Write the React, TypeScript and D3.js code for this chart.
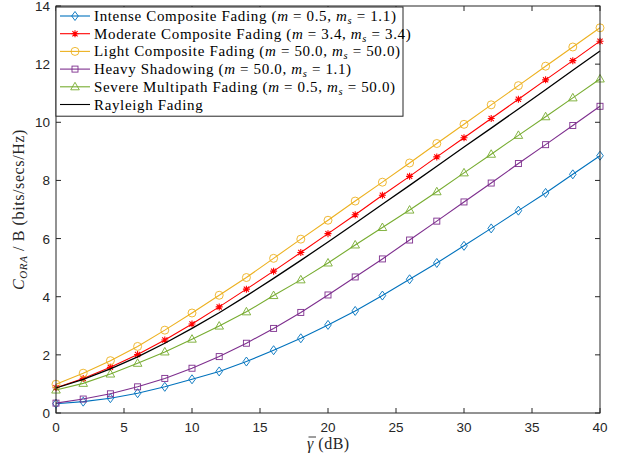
import React from "react";
import * as d3 from "d3";

const snr = [0, 2, 4, 6, 8, 10, 12, 14, 16, 18, 20, 22, 24, 26, 28, 30, 32, 34, 36, 38, 40];

const intense = [0.32, 0.39, 0.51, 0.68, 0.9, 1.16, 1.43, 1.77, 2.16, 2.57, 3.03, 3.51, 4.04, 4.6, 5.16, 5.75, 6.35, 6.96, 7.57, 8.21, 8.85];
const moderate = [0.87, 1.19, 1.57, 2.01, 2.51, 3.06, 3.65, 4.26, 4.88, 5.52, 6.17, 6.82, 7.49, 8.14, 8.81, 9.47, 10.13, 10.79, 11.46, 12.12, 12.79];
const light = [0.99, 1.37, 1.8, 2.29, 2.85, 3.44, 4.05, 4.66, 5.32, 5.98, 6.63, 7.29, 7.94, 8.6, 9.27, 9.93, 10.6, 11.26, 11.93, 12.59, 13.25];
const heavy = [0.34, 0.48, 0.66, 0.9, 1.19, 1.54, 1.94, 2.4, 2.91, 3.46, 4.06, 4.68, 5.3, 5.95, 6.6, 7.26, 7.91, 8.58, 9.23, 9.89, 10.55];
const severe = [0.79, 1.02, 1.34, 1.71, 2.1, 2.54, 2.99, 3.48, 4.04, 4.58, 5.16, 5.78, 6.38, 6.98, 7.61, 8.26, 8.9, 9.55, 10.19, 10.84, 11.49];
const rayleigh = [0.86, 1.16, 1.52, 1.93, 2.4, 2.91, 3.45, 4.03, 4.63, 5.25, 5.88, 6.53, 7.18, 7.83, 8.49, 9.15, 9.8, 10.46, 11.12, 11.79, 12.45];

const xTicks = [0, 5, 10, 15, 20, 25, 30, 35, 40];
const yTicks = [0, 2, 4, 6, 8, 10, 12, 14];

const seriesNames = [
  { name: "Intense Composite Fading", m: "0.5", ms: "1.1" },
  { name: "Moderate Composite Fading", m: "3.4", ms: "3.4" },
  { name: "Light Composite Fading", m: "50.0", ms: "50.0" },
  { name: "Heavy Shadowing", m: "50.0", ms: "1.1" },
  { name: "Severe Multipath Fading", m: "0.5", ms: "50.0" },
  { name: "Rayleigh Fading", m: "", ms: "" },
];

const series = [
  { data: intense, color: "#0072BD", marker: "diamond" },
  { data: moderate, color: "#FF0000", marker: "asterisk" },
  { data: light, color: "#EDB120", marker: "circle" },
  { data: heavy, color: "#7E2F8E", marker: "square" },
  { data: severe, color: "#77AC30", marker: "triangle" },
  { data: rayleigh, color: "#000000", marker: "none" },
];

const W = 623;
const H = 459;
const L = 56, R = 600, T = 6, B = 413;

function Marker({ type, x, y, color }: { type: string; x: number; y: number; color: string }) {
  const sw = 0.9;
  if (type === "circle") return <circle cx={x} cy={y} r={4} fill="none" stroke={color} strokeWidth={sw} />;
  if (type === "square") return <rect x={x - 3} y={y - 3} width={6} height={6} fill="none" stroke={color} strokeWidth={sw} />;
  if (type === "diamond")
    return <path d={`M${x},${y - 4.5}L${x + 3.3},${y}L${x},${y + 4.5}L${x - 3.3},${y}Z`} fill="none" stroke={color} strokeWidth={sw} />;
  if (type === "triangle")
    return <path d={`M${x},${y - 4.5}L${x + 4.3},${y + 3}L${x - 4.3},${y + 3}Z`} fill="none" stroke={color} strokeWidth={sw} />;
  if (type === "asterisk") {
    const r = 3.5, d = 2.6;
    return (
      <path
        d={`M${x - r},${y}L${x + r},${y}M${x},${y - r}L${x},${y + r}M${x - d},${y - d}L${x + d},${y + d}M${x - d},${y + d}L${x + d},${y - d}`}
        stroke={color}
        strokeWidth={1.1}
      />
    );
  }
  return null;
}

export default function App() {
  const x = d3.scaleLinear().domain([0, 40]).range([L, R]);
  const y = d3.scaleLinear().domain([0, 14]).range([B, T]);
  const line = d3
    .line<number>()
    .x((_, i) => x(snr[i]))
    .y((d) => y(d));

  const axisColor = "#262626";
  const tickFont = "Liberation Sans, Arial, sans-serif";
  const serif = "Liberation Serif, Times New Roman, serif";
  const legendX = 56, legendY = 7, legendW = 347, rowH = 17.7;

  return (
    <svg width={W} height={H} style={{ position: "absolute", left: 0, top: 0, background: "#fff" }}>
      <rect x={0} y={0} width={W} height={H} fill="#fff" />
      {series.map((s, si) => (
        <g key={si}>
          <path d={line(s.data) || ""} fill="none" stroke={s.color} strokeWidth={s.marker === "none" ? 1.3 : 1.1} />
          {s.data.map((v, i) => (
            <Marker key={i} type={s.marker} x={x(snr[i])} y={y(v)} color={s.color} />
          ))}
        </g>
      ))}
      <rect x={L} y={T} width={R - L} height={B - T} fill="none" stroke={axisColor} strokeWidth={1} />
      {xTicks.map((t) => (
        <g key={"x" + t}>
          <line x1={x(t)} x2={x(t)} y1={B} y2={B - 5} stroke={axisColor} />
          <line x1={x(t)} x2={x(t)} y1={T} y2={T + 5} stroke={axisColor} />
          <text x={x(t)} y={B + 19} textAnchor="middle" fontFamily={tickFont} fontSize={13.5} fill={axisColor}>
            {t}
          </text>
        </g>
      ))}
      {yTicks.map((t) => (
        <g key={"y" + t}>
          <line x1={L} x2={L + 5} y1={y(t)} y2={y(t)} stroke={axisColor} />
          <line x1={R} x2={R - 5} y1={y(t)} y2={y(t)} stroke={axisColor} />
          <text x={L - 6} y={y(t) + 5} textAnchor="end" fontFamily={tickFont} fontSize={13.5} fill={axisColor}>
            {t}
          </text>
        </g>
      ))}
      {/* x label */}
      <text x={307} y={449} fontFamily={serif} fontSize={16} fill={axisColor} letterSpacing={0.5}>
        <tspan fontStyle="italic">γ</tspan>
        <tspan> (dB)</tspan>
      </text>
      <line x1={308.5} x2={316} y1={437} y2={437} stroke={axisColor} strokeWidth={0.9} />
      {/* y label */}
      <text
        transform={`translate(24,${(T + B) / 2}) rotate(-90)`}
        textAnchor="middle"
        fontFamily={serif}
        fontSize={16}
        letterSpacing={0.6}
        fill={axisColor}
      >
        <tspan fontStyle="italic">C</tspan>
        <tspan fontStyle="italic" fontSize={11} dy={3}>ORA</tspan>
        <tspan dy={-3}> / B (bits/secs/Hz)</tspan>
      </text>
      {/* legend */}
      <rect x={legendX} y={legendY} width={legendW} height={rowH * 6 + 3} fill="#fff" stroke={axisColor} strokeWidth={1} />
      {seriesNames.map((s, i) => {
        const cy = legendY + 9 + i * rowH;
        const st = series[i];
        return (
          <g key={"lg" + i}>
            <line x1={60} x2={90} y1={cy} y2={cy} stroke={st.color} strokeWidth={1.1} />
            <Marker type={st.marker} x={75} y={cy} color={st.color} />
            <text x={94} y={cy + 5} fontFamily={serif} fontSize={15} letterSpacing={0.65} fill="#000">
              {s.name}
              {s.m && (
                <>
                  {" ("}
                  <tspan fontStyle="italic">m</tspan>
                  {" = " + s.m + ", "}
                  <tspan fontStyle="italic">m</tspan>
                  <tspan fontStyle="italic" fontSize={10.5} dy={3}>s</tspan>
                  <tspan dy={-3}>{" = " + s.ms + ")"}</tspan>
                </>
              )}
            </text>
          </g>
        );
      })}
    </svg>
  );
}
